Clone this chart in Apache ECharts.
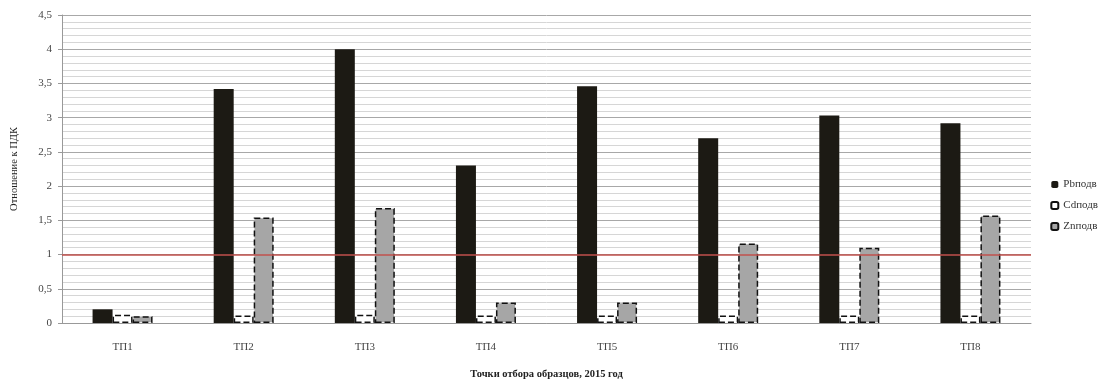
<!DOCTYPE html>
<html>
<head>
<meta charset="UTF-8">
<title>Отношение к ПДК</title>
<script src="https://cdn.jsdelivr.net/npm/echarts@6/dist/echarts.min.js"></script>
<style>
  html, body { margin: 0; padding: 0; background: #fff; }
  #container { width: 1103px; height: 385px; }
</style>
</head>
<body>
<div id="container"></div>
<script>
// данные по точкам отбора
var categories = ['ТП1', 'ТП2', 'ТП3', 'ТП4', 'ТП5', 'ТП6', 'ТП7', 'ТП8'];
var pbValues = [0.2, 3.42, 4.0, 2.3, 3.46, 2.7, 3.03, 2.92];
var cdValues = [0.12, 0.11, 0.12, 0.11, 0.11, 0.11, 0.11, 0.11];
var znValues = [0.1, 1.54, 1.68, 0.3, 0.3, 1.16, 1.1, 1.57];
var pdkLevel = 1;

var serif = '"Liberation Serif", "DejaVu Serif", serif';
var dom = document.getElementById('container');
var myChart = echarts.init(dom);

var option = {
    animation: false,
    textStyle: { fontFamily: serif },
    grid: { left: 62, right: 72, top: 15, bottom: 57 },
    legend: {
        orient: 'vertical',
        right: 0,
        top: 174,
        itemWidth: 7,
        itemHeight: 7,
        itemGap: 10,
        textStyle: { fontFamily: serif, fontSize: 11, color: '#333' },
        data: ['Pbподв', 'Cdподв', 'Znподв']
    },
    xAxis: {
        type: 'category',
        data: categories,
        name: 'Точки отбора образцов, 2015 год',
        nameLocation: 'middle',
        nameGap: 46,
        nameTextStyle: { fontFamily: serif, fontSize: 10.5, fontWeight: 'bold', color: '#222' },
        axisLine: { lineStyle: { color: '#999' } },
        axisTick: { show: false },
        axisLabel: { fontFamily: serif, fontSize: 11, color: '#444', margin: 19 }
    },
    yAxis: {
        type: 'value',
        min: 0,
        max: 4.5,
        interval: 0.5,
        name: 'Отношение к ПДК',
        nameLocation: 'middle',
        nameGap: 42,
        nameTextStyle: { fontFamily: serif, fontSize: 10.5, color: '#222' },
        axisLine: { show: true, lineStyle: { color: '#999' } },
        axisTick: { show: true, length: 4, lineStyle: { color: '#999' } },
        axisLabel: {
            fontFamily: serif, fontSize: 11, color: '#444', margin: 10,
            formatter: function (v) { return String(v).replace('.', ','); }
        },
        splitLine: { lineStyle: { color: '#a8a8a8', width: 1 } },
        minorTick: { show: false, splitNumber: 5 },
        minorSplitLine: { show: true, lineStyle: { color: '#d6d6d6', width: 1 } }
    },
    series: [
        {
            name: 'Pbподв',
            type: 'bar',
            data: pbValues,
            barWidth: 20,
            barGap: '0%',
            barCategoryGap: '50%',
            itemStyle: { color: '#1c1a14' },
            markLine: {
                silent: true,
                symbol: 'none',
                label: { show: false },
                lineStyle: { color: '#c0504d', width: 1.5, type: 'solid' },
                data: [{ yAxis: pdkLevel }]
            }
        },
        {
            name: 'Cdподв',
            type: 'bar',
            data: cdValues,
            barWidth: 20,
            barGap: '0%',
            itemStyle: { color: '#ffffff', borderColor: '#111', borderWidth: 1.5, borderType: 'dashed' }
        },
        {
            name: 'Znподв',
            type: 'bar',
            data: znValues,
            barWidth: 20,
            barGap: '0%',
            itemStyle: { color: '#a6a6a6', borderColor: '#111', borderWidth: 1.5, borderType: 'dashed' }
        }
    ]
};

if (option && typeof option === 'object') {
    myChart.setOption(option, true);
}
</script>
</body>
</html>
